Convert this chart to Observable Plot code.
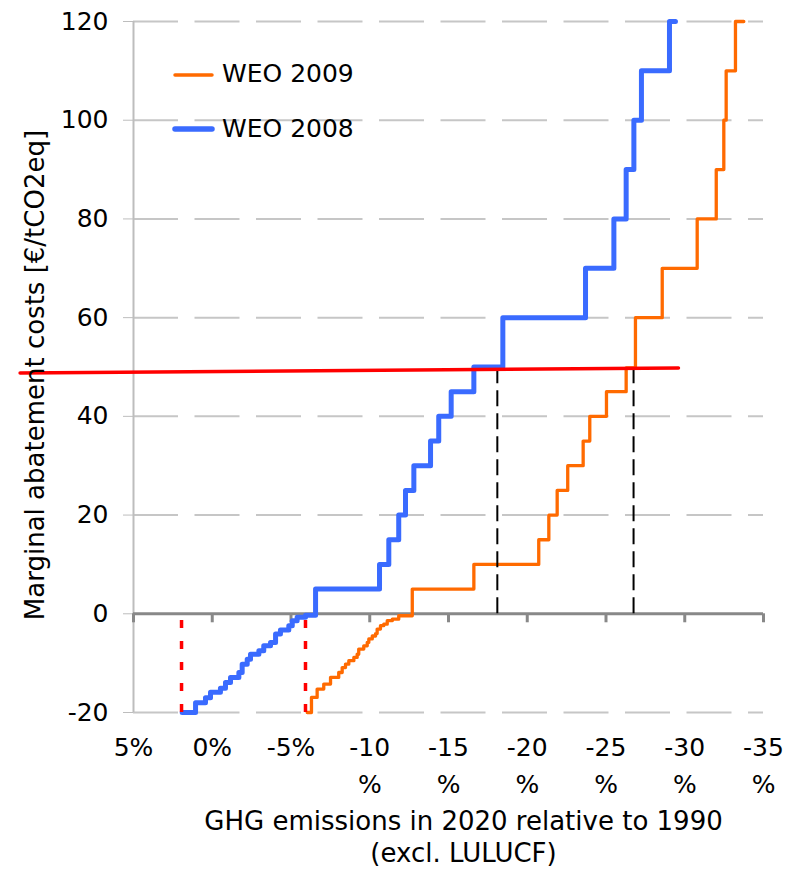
<!DOCTYPE html>
<html>
<head>
<meta charset="utf-8">
<script src="https://cdn.jsdelivr.net/npm/d3@7"></script>
<script src="https://cdn.jsdelivr.net/npm/@observablehq/plot@0.6"></script>
<style>
  html, body { margin: 0; padding: 0; background: white; }
  #wrap { position: relative; width: 787px; height: 869px; font-family: "DejaVu Sans", sans-serif; }
  #legend { position: absolute; left: 0; top: 0; width: 787px; height: 869px; pointer-events: none; }
  .lg { position: absolute; left: 222px; font-size: 25px; line-height: 1; color: black; }
</style>
</head>
<body>
<div id="wrap"></div>
<script>
// ---- data ----
const xTicks = [5, 0, -5, -10, -15, -20, -25, -30, -35];
const xTickLabels = ["5%", "0%", "-5%", "-10\n%", "-15\n%", "-20\n%", "-25\n%", "-30\n%", "-35\n%"];
const yTicks = [-20, 0, 20, 40, 60, 80, 100, 120];

const seriesNames = ["WEO 2009", "WEO 2008"];

// WEO 2008 (blue): start of each step (x) and its cost level (y)
const weo2008X = [1.91, 1.06, 0.43, 0.11, -0.52, -0.84, -1.16, -1.69, -1.90, -2.22, -2.43, -2.96, -3.27, -3.70, -4.02, -4.33, -4.86, -5.08, -5.39, -5.92,
  -6.56, -10.62, -11.21, -11.84, -12.27, -12.80, -13.86, -14.38, -15.17, -16.61, -18.45, -23.70, -25.50, -26.28, -26.77, -27.25, -29.03, -29.41];
const weo2008Y = [-20, -18, -17, -15.9, -15.1, -13.9, -12.9, -11.9, -10.2, -9.2, -8.2, -7.5, -6.5, -5.8, -4.1, -3.3, -2.4, -1.4, -0.7, -0.3,
  5, 10, 15, 20, 25, 30, 35, 40, 45, 50, 60, 70, 80, 90, 100, 110, 120, 120];

// WEO 2009 (orange)
const weo2009X = [-6.03, -6.30, -6.66, -7.08, -7.51, -8.03, -8.25, -8.46, -8.67, -8.99, -9.20, -9.30, -9.62, -9.84, -9.94, -10.16, -10.37, -10.47, -10.68, -10.89, -11.11, -11.43, -11.84,
  -12.70, -16.61, -20.73, -21.37, -21.90, -22.57, -23.55, -23.97, -25.03, -26.28, -26.87, -28.57, -30.79, -32.0, -32.48, -32.63, -33.22, -33.75];
const weo2009Y = [-20, -16.95, -15.26, -14.25, -12.9, -11.9, -10.9, -10.2, -9.5, -8.85, -8.2, -7.15, -6.5, -5.8, -5.1, -4.5, -4.0, -3.1, -2.4, -2.1, -1.4, -1.1, -0.4,
  5, 10, 15, 20, 25, 30, 35, 40, 45, 49.8, 60, 70, 80, 90, 100, 110, 120, 120];

// 50 €/t carbon price line
const priceX = [12.2, -29.6];
const priceY = [48.8, 49.8];

// red dotted drop lines (start of curves) and black dashed drop lines (reduction at price)
const dropRedX = [1.95, -5.92];
const dropRedY = [-20, 0];
const dropBlackX = [-18.1, -26.75];
const dropBlackY = [0, 49.5];

const xTitle = "GHG emissions in 2020 relative to 1990\n(excl. LULUCF)";
const yTitle = "Marginal abatement costs [€/tCO2eq]";

// ---- tables ----
const blue = "#3a6bff", orange = "#ff6a00";
const t2008 = weo2008X.map((x, i) => ({x, y: weo2008Y[i]}));
const t2009 = weo2009X.map((x, i) => ({x, y: weo2009Y[i]}));
const tPrice = priceX.map((x, i) => ({x, y: priceY[i]}));

const chart = Plot.plot({
  width: 787,
  height: 869,
  marginLeft: 133,
  marginRight: 24,
  marginTop: 21,
  marginBottom: 157,
  style: {fontFamily: "DejaVu Sans", fontSize: "25px", color: "black", background: "white"},
  x: {domain: [xTicks[0], xTicks[xTicks.length - 1]]},
  y: {domain: [yTicks[0], yTicks[yTicks.length - 1]]},
  marks: [
    Plot.gridY({ticks: yTicks.filter(d => d !== 0), stroke: "#c6c6c6", strokeOpacity: 1, strokeWidth: 2, strokeDasharray: "45,16.5"}),
    Plot.ruleX([xTicks[0]], {stroke: "#bdbdbd", strokeWidth: 2}),
    Plot.axisY({ticks: yTicks, tickFormat: d => String(d), tickSize: 10, tickPadding: 15, stroke: "#bdbdbd", fill: "black", fontSize: 25, label: null}),
    Plot.axisX({ticks: xTicks, tickFormat: d => xTickLabels[xTicks.indexOf(d)], tickSize: 0, tickPadding: 17, lineHeight: 1.48, fill: "black", fontSize: 25, label: null}),
    Plot.ruleY([0], {stroke: "#888", strokeWidth: 3}),
    Plot.ruleX(xTicks, {x: d => d, y1: 0, y2: 0, insetBottom: -9, stroke: "#888", strokeWidth: 3}),
    Plot.line(t2009, {x: "x", y: "y", curve: "step-after", stroke: orange, strokeWidth: 3.3, strokeLinejoin: "round"}),
    Plot.line(t2008, {x: "x", y: "y", curve: "step-after", stroke: blue, strokeWidth: 5, strokeLinejoin: "round"}),
    Plot.ruleX(dropBlackX, {x: d => d, y1: dropBlackY[0], y2: dropBlackY[1], stroke: "black", strokeWidth: 2, strokeDasharray: "16,7"}),
    Plot.ruleX(dropRedX, {x: d => d, y1: dropRedY[0], y2: dropRedY[1], stroke: "red", strokeWidth: 3.5, strokeDasharray: "8,13"}),
    Plot.line(tPrice, {x: "x", y: "y", stroke: "red", strokeWidth: 3.5}),
    Plot.text([xTitle], {frameAnchor: "bottom", dx: 15, dy: 123, lineAnchor: "middle", textAnchor: "middle", lineHeight: 1.24, fontSize: 26, fill: "black"}),
    Plot.text([yTitle], {frameAnchor: "left", rotate: -90, dx: -98, dy: 8, lineAnchor: "middle", textAnchor: "middle", fontSize: 26, fill: "black"})
  ]
});

const wrap = document.getElementById("wrap");
wrap.appendChild(chart);

// legend overlay
const lg = document.createElement("div");
lg.id = "legend";
lg.innerHTML = `
  <svg width="787" height="869" style="position:absolute;left:0;top:0">
    <line x1="175" y1="75" x2="212" y2="75" stroke="${orange}" stroke-width="3.5" stroke-linecap="round"/>
    <line x1="175" y1="129" x2="212" y2="129" stroke="${blue}" stroke-width="5.5" stroke-linecap="round"/>
  </svg>
  <div class="lg" style="top:${75 - 14}px">${seriesNames[0]}</div>
  <div class="lg" style="top:${130 - 14}px">${seriesNames[1]}</div>`;
wrap.appendChild(lg);
</script>
</body>
</html>
